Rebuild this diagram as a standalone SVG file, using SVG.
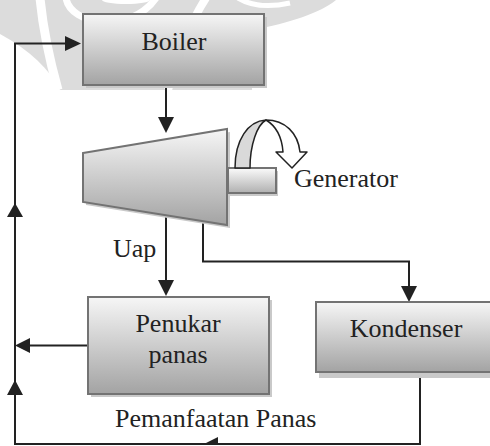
<svg xmlns="http://www.w3.org/2000/svg" width="490" height="446" viewBox="0 0 490 446">
<style>
.box{stroke:#737373;stroke-width:2}
.shadow{fill:#c9c9c9}
.ln{fill:none;stroke:#222;stroke-width:2}
.ah{fill:#222}
.wm{fill:none;stroke:#fff}
</style>
<defs>
<linearGradient id="g" x1="0" y1="0" x2="0" y2="1">
<stop offset="0" stop-color="#f6f6f6"/>
<stop offset="1" stop-color="#a3a3a3"/>
</linearGradient>
<linearGradient id="gs" x1="0" y1="0" x2="0" y2="1">
<stop offset="0" stop-color="#fbfbfb"/>
<stop offset="1" stop-color="#b0b0b0"/>
</linearGradient>
</defs>
<rect width="490" height="446" fill="#fff"/>
<g id="watermark">
<path d="M0,0 H336 C320,13 290,23 252,30 L252,90 L60,90 C50,70 30,50 0,34 Z" fill="#dcdcdc"/>
<path class="wm" d="M40,-2 Q44,40 58,90" stroke-width="9"/>
<path class="wm" d="M66,-2 C70,25 130,35 156,-2" stroke-width="7"/>
<ellipse cx="126" cy="0" rx="24" ry="4" fill="#fff"/>
<path class="wm" d="M206,-2 Q185,30 168,90" stroke-width="8"/>
<path class="wm" d="M238,-2 Q258,10 290,3" stroke-width="5"/>
</g>
<g id="connectors">
<path class="ln" d="M166,85 V120"/>
<polygon class="ah" points="158,117 174,117 166,133"/>
<path class="ln" d="M166,215 V283"/>
<polygon class="ah" points="158,280 174,280 166,296"/>
<path class="ln" d="M203,221 V261.5 H409 V288" stroke-width="2.6"/>
<polygon class="ah" points="401,286 417,286 409,302"/>
<path class="ln" d="M420,369 V444 H15 V43.5 H68"/>
<polygon class="ah" points="65,36 65,51 81,43.5"/>
<polygon class="ah" points="7,217 23,217 15,203"/>
<polygon class="ah" points="7,395 23,395 15,380"/>
<path class="ln" d="M92,345.5 H28"/>
<polygon class="ah" points="30,338 30,353 15,345.5"/>
<polygon class="ah" points="203,444.5 218,437 218,444.5"/>
</g>
<g font-family="'Liberation Serif', 'Times New Roman', 'DejaVu Serif', serif" font-size="26" fill="#222">
<g id="boiler">
<rect class="shadow" x="86" y="17" width="181" height="71"/>
<rect class="box" x="83" y="14" width="181" height="71" fill="url(#g)"/>
<text x="174" y="50" text-anchor="middle" fill="#222">Boiler</text>
</g>
<g id="turbine">
<polygon class="shadow" points="86,156 230,132 230,228 86,205"/>
<polygon class="box" points="83,153 227,129 227,225 83,202" fill="url(#g)"/>
<text x="113" y="257" fill="#222">Uap</text>
</g>
<g id="generator">
<rect class="shadow" x="230" y="171" width="48" height="25"/>
<rect class="box" x="228" y="168" width="48" height="25" fill="url(#gs)" stroke-width="1.5"/>
<path d="M235,168 C235,140 248,121 266,120 C257,125 250,145 250,168 Z" fill="#d9d9d9" stroke="#222" stroke-width="1.5" stroke-linejoin="round"/>
<path d="M266,120 C285,120 298,133 300,152 L307,152 L292,168 L276,152 L283,152 C282,138 276,126 266,120 Z" fill="#fff" stroke="#222" stroke-width="1.5" stroke-linejoin="round"/>
<text x="294" y="187" fill="#222">Generator</text>
</g>
<g id="penukar">
<rect class="shadow" x="91" y="300" width="181" height="97"/>
<rect class="box" x="88" y="297" width="181" height="97" fill="url(#g)"/>
<text x="178" y="332" text-anchor="middle" fill="#222">Penukar</text>
<text x="178" y="363" text-anchor="middle" fill="#222">panas</text>
</g>
<g id="kondenser">
<rect class="shadow" x="319" y="305" width="181" height="73"/>
<rect class="box" x="316" y="302" width="181" height="70" fill="url(#g)"/>
<text x="406" y="337" text-anchor="middle" fill="#222">Kondenser</text>
</g>
<text x="115" y="427" fill="#222">Pemanfaatan Panas</text>
</g>
</svg>
